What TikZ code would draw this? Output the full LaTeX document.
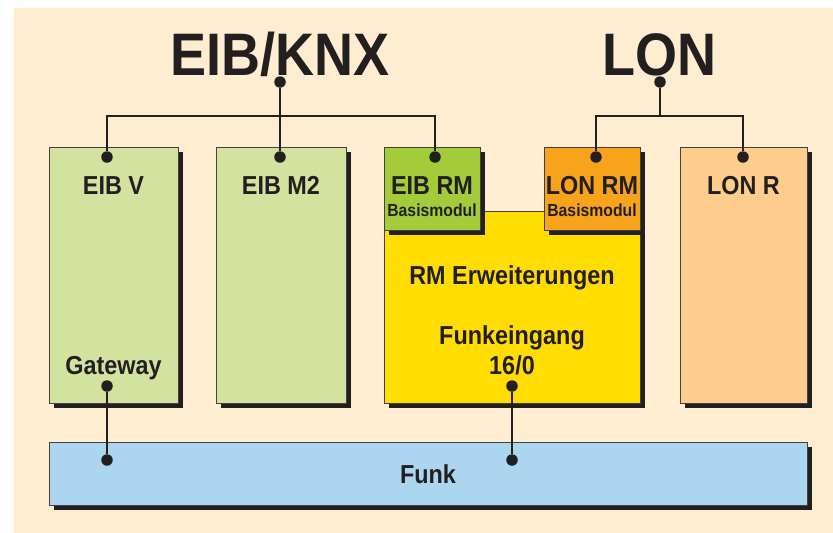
\documentclass[tikz,border=0pt]{standalone}
\usepackage{fontspec}
\setmainfont{Liberation Sans}[FakeStretch=0.9]
\usetikzlibrary{shadows}
\definecolor{pagebg}{HTML}{FEEDD0}
\definecolor{ink}{HTML}{231F20}
\definecolor{palegreen}{HTML}{D3E29E}
\definecolor{leafgreen}{HTML}{A4CB3A}
\definecolor{signalyellow}{HTML}{FFDD00}
\definecolor{deeporange}{HTML}{F7A31B}
\definecolor{paleorange}{HTML}{FECD8D}
\definecolor{skyblue}{HTML}{ACD5F0}
\tikzset{
  unitbox/.style={draw=ink!85, line width=0.9pt, inner sep=0pt,
    general shadow={shadow xshift=4.5pt, shadow yshift=-4.5pt, fill=ink}},
  label/.style={text=ink, font=\bfseries\fontsize{26}{28}\selectfont, anchor=base, inner sep=0pt},
  sublabel/.style={text=ink, font=\bfseries\fontsize{17.5}{19}\selectfont, anchor=base, inner sep=0pt},
  headline/.style={text=ink, font=\bfseries\fontsize{60}{62}\selectfont, anchor=base, inner sep=0pt},
  dot/.style={circle, fill=ink, inner sep=0pt, minimum size=11.5pt},
  wire/.style={ink, line width=1.8pt}
}
\begin{document}
\begin{tikzpicture}[x=1pt, y=-1pt]
  % page and background panel
  \useasboundingbox (0,0) rectangle (833,533);
  \fill[white] (0,0) rectangle (833,533);
  \fill[pagebg] (14,8) rectangle (833,533);

  % bus headlines
  \node[headline] (knx) at (280,75) {EIB/KNX};
  \node[headline] (lon) at (659,75) {LON};

  % device boxes
  \node[unitbox, fill=palegreen, minimum width=129pt, minimum height=256pt] (eibv) at (113.5,275) {};
  \node[unitbox, fill=palegreen, minimum width=130pt, minimum height=256pt] (eibm2) at (281,275) {};
  \node[unitbox, fill=signalyellow, minimum width=256pt, minimum height=192pt] (rmext) at (512,307) {};
  \node[unitbox, fill=leafgreen, minimum width=96pt, minimum height=83pt] (eibrm) at (432,188.5) {};
  \node[unitbox, fill=deeporange, minimum width=96pt, minimum height=83pt] (lonrm) at (592,188.5) {};
  \node[unitbox, fill=paleorange, minimum width=127pt, minimum height=256pt] (lonr) at (743.5,275) {};
  \node[unitbox, fill=skyblue, minimum width=758pt, minimum height=63pt] (funk) at (428,473.5) {};

  % box labels
  \node[label] (teibv) at (113.5,194) {EIB V};
  \node[label] (tgate) at (113.5,374) {Gateway};
  \node[label] (teibm2) at (281,194) {EIB M2};
  \node[label] (teibrm) at (432,194) {EIB RM};
  \node[sublabel] (teibrmb) at (432,216.5) {Basismodul};
  \node[label] (tlonrm) at (592,194) {LON RM};
  \node[sublabel] (tlonrmb) at (592,216.5) {Basismodul};
  \node[label] (tlonr) at (743.5,194) {LON R};
  \node[label] (text) at (512,284) {RM Erweiterungen};
  \node[label] (tfe) at (512,344) {Funkeingang};
  \node[label] (tfe2) at (512,374) {16/0};
  \node[label] (tfunk) at (428,483) {Funk};

  % connection points
  \node[dot] (pknx) at (280,82) {};
  \node[dot] (plon) at (660,82) {};
  \node[dot] (peibv) at (107,157) {};
  \node[dot] (peibm2) at (280,157) {};
  \node[dot] (peibrm) at (435,157) {};
  \node[dot] (plonrm) at (596,157) {};
  \node[dot] (plonr) at (743,157) {};
  \node[dot] (pgate) at (107,386) {};
  \node[dot] (pfe) at (512,386) {};
  \node[dot] (pfunka) at (107,460) {};
  \node[dot] (pfunkb) at (512,460) {};
  \coordinate (jknx) at (280,116);
  \coordinate (jlon) at (660,116);

  % bus wiring
  \draw[wire] (pknx) -- (peibm2);
  \draw[wire] (peibv) |- (jknx) -| (peibrm);
  \draw[wire] (plon) -- (jlon);
  \draw[wire] (plonrm) |- (jlon) -| (plonr);
  \draw[wire] (pgate) -- (pfunka);
  \draw[wire] (pfe) -- (pfunkb);
\end{tikzpicture}
\end{document}
